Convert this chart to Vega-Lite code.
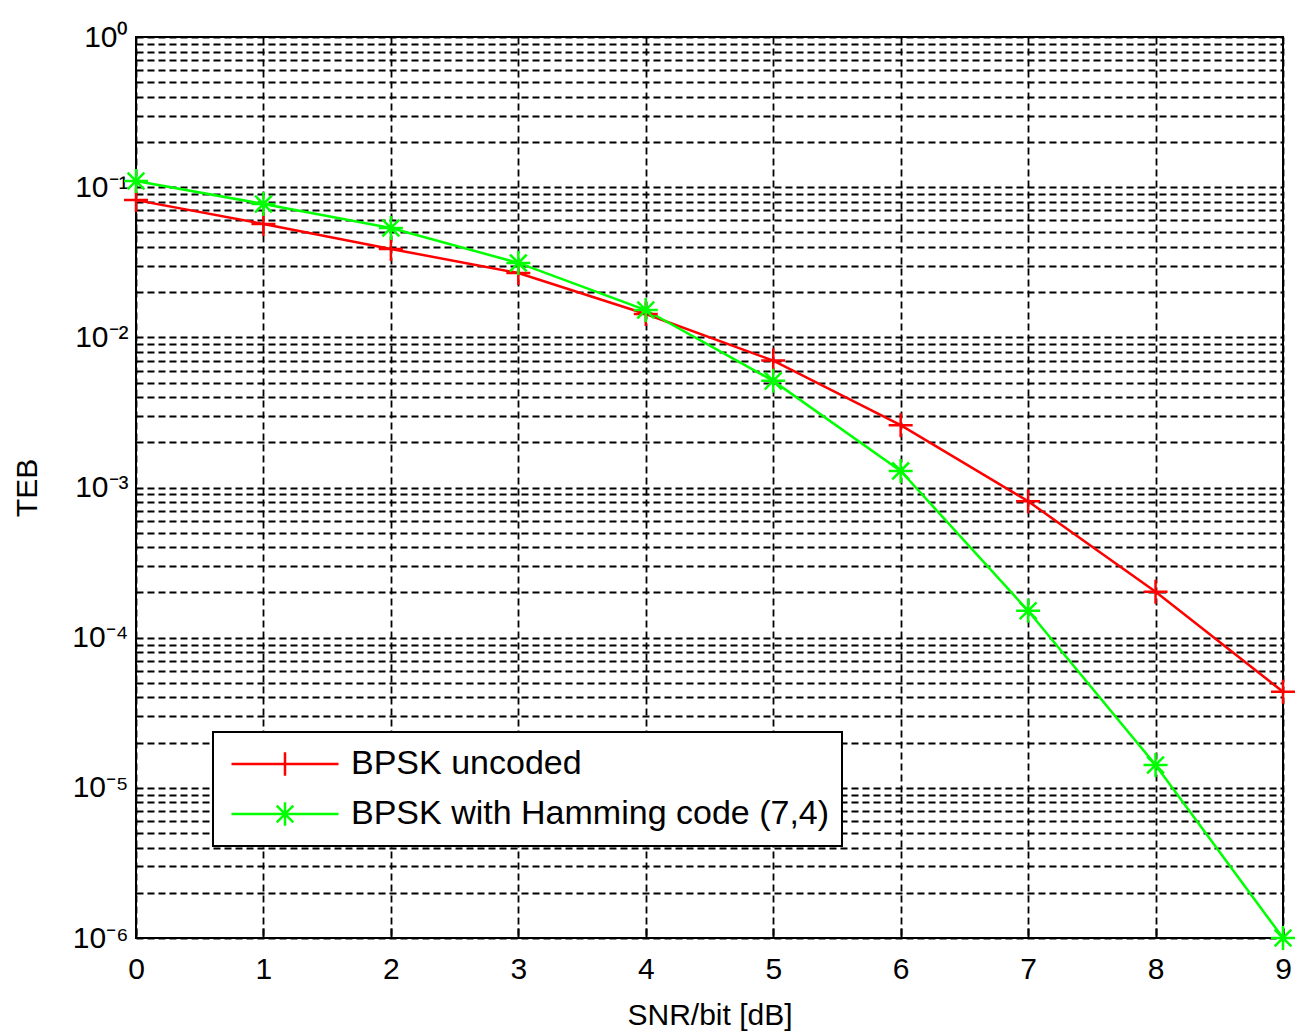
{
  "$schema": "https://vega.github.io/schema/vega-lite/v6.json",
  "width": 1147,
  "height": 901,
  "autosize": {"type": "none"},
  "padding": {"left": 136, "top": 37, "right": 12, "bottom": 96},
  "background": "white",
  "config": {
    "font": "Liberation Sans",
    "view": {"stroke": "black", "strokeWidth": 2},
    "axis": {"labelFont": "Liberation Sans", "titleFont": "Liberation Sans", "labelColor": "black", "titleColor": "black", "titleFontWeight": "normal"}
  },
  "data": {
    "values": [
      {"snr": 0, "teb": 0.082, "series": "BPSK uncoded"},
      {"snr": 1, "teb": 0.0569, "series": "BPSK uncoded"},
      {"snr": 2, "teb": 0.0388, "series": "BPSK uncoded"},
      {"snr": 3, "teb": 0.0268, "series": "BPSK uncoded"},
      {"snr": 4, "teb": 0.0143, "series": "BPSK uncoded"},
      {"snr": 5, "teb": 0.0070, "series": "BPSK uncoded"},
      {"snr": 6, "teb": 0.0026, "series": "BPSK uncoded"},
      {"snr": 7, "teb": 0.00081, "series": "BPSK uncoded"},
      {"snr": 8, "teb": 0.000202, "series": "BPSK uncoded"},
      {"snr": 9, "teb": 0.0000436, "series": "BPSK uncoded"},
      {"snr": 0, "teb": 0.110, "series": "BPSK with Hamming code (7,4)"},
      {"snr": 1, "teb": 0.0773, "series": "BPSK with Hamming code (7,4)"},
      {"snr": 2, "teb": 0.0535, "series": "BPSK with Hamming code (7,4)"},
      {"snr": 3, "teb": 0.0313, "series": "BPSK with Hamming code (7,4)"},
      {"snr": 4, "teb": 0.0152, "series": "BPSK with Hamming code (7,4)"},
      {"snr": 5, "teb": 0.00513, "series": "BPSK with Hamming code (7,4)"},
      {"snr": 6, "teb": 0.00129, "series": "BPSK with Hamming code (7,4)"},
      {"snr": 7, "teb": 0.000151, "series": "BPSK with Hamming code (7,4)"},
      {"snr": 8, "teb": 0.0000142, "series": "BPSK with Hamming code (7,4)"},
      {"snr": 9, "teb": 0.000001, "series": "BPSK with Hamming code (7,4)"}
    ]
  },
  "encoding": {
    "x": {
      "field": "snr", "type": "quantitative",
      "scale": {"domain": [0, 9], "nice": false, "zero": false},
      "axis": {
        "title": "SNR/bit [dB]", "titleFontSize": 30, "titlePadding": 16,
        "values": [0, 1, 2, 3, 4, 5, 6, 7, 8, 9],
        "labelFontSize": 30, "labelPadding": 26, "labelFlush": false,
        "ticks": true, "tickSize": -10, "tickColor": "black", "tickWidth": 2, "domain": false,
        "grid": true, "gridColor": "black", "gridOpacity": 1, "gridWidth": 1.8, "gridDash": [7, 4]
      }
    },
    "y": {
      "field": "teb", "type": "quantitative",
      "scale": {"type": "log", "domain": [0.000001, 1], "nice": false},
      "axis": {
        "title": "TEB", "titleFontSize": 30, "titlePadding": 29,
        "values": [0.000001, 0.000002, 0.000003, 0.000004, 0.000005, 0.000006, 0.000007, 0.000008, 0.000009,
                   0.00001, 0.00002, 0.00003, 0.00004, 0.00005, 0.00006, 0.00007, 0.00008, 0.00009,
                   0.0001, 0.0002, 0.0003, 0.0004, 0.0005, 0.0006, 0.0007, 0.0008, 0.0009,
                   0.001, 0.002, 0.003, 0.004, 0.005, 0.006, 0.007, 0.008, 0.009,
                   0.01, 0.02, 0.03, 0.04, 0.05, 0.06, 0.07, 0.08, 0.09,
                   0.1, 0.2, 0.3, 0.4, 0.5, 0.6, 0.7, 0.8, 0.9, 1],
        "labelExpr": "datum.value == 1 ? '10⁰' : datum.value == 0.1 ? '10⁻¹' : datum.value == 0.01 ? '10⁻²' : datum.value == 0.001 ? '10⁻³' : datum.value == 0.0001 ? '10⁻⁴' : datum.value == 0.00001 ? '10⁻⁵' : datum.value == 0.000001 ? '10⁻⁶' : ''",
        "labelFontSize": 30, "labelPadding": 8, "ticks": false, "domain": false, "labelOverlap": false, "labelFlush": false,
        "grid": true, "gridColor": "black", "gridOpacity": 1, "gridWidth": 1.8, "gridDash": [7, 4]
      }
    },
    "color": {
      "field": "series", "type": "nominal",
      "scale": {"domain": ["BPSK uncoded", "BPSK with Hamming code (7,4)"], "range": ["#ff0000", "#00ff00"]},
      "legend": {
        "title": null,
        "orient": "none", "legendX": 77, "legendY": 695,
        "labelFontSize": 34, "labelFont": "Liberation Sans", "labelColor": "black", "labelLimit": 1000,
        "symbolSize": 11449, "symbolStrokeWidth": 2.5, "symbolType": "stroke", "symbolOffset": 5,
        "labelOffset": 11, "padding": 12, "rowPadding": 10, "clipHeight": 40,
        "fillColor": "white", "strokeColor": "black", "cornerRadius": 0,
        "encode": {
          "legend": {"update": {"strokeWidth": {"value": 2}}},
          "symbols": {
            "update": {
              "shape": {"signal": "datum.value === 'BPSK uncoded' ? 'M-1,0H1M0,-0.22V0.22' : 'M-1,0H1M0,-0.22V0.22M-0.155,-0.155L0.155,0.155M-0.155,0.155L0.155,-0.155'"},
              "fill": {"value": "transparent"}
            }
          }
        }
      }
    }
  },
  "layer": [
    {"mark": {"type": "line", "strokeWidth": 2.5, "clip": false}},
    {
      "transform": [{"filter": "datum.series === 'BPSK uncoded'"}],
      "mark": {"type": "point", "filled": false, "strokeWidth": 2.5, "size": 576, "opacity": 1, "clip": false, "shape": "M-1,0H1M0,-1V1"}
    },
    {
      "transform": [{"filter": "datum.series !== 'BPSK uncoded'"}],
      "mark": {"type": "point", "filled": false, "strokeWidth": 2.5, "size": 576, "opacity": 1, "clip": false, "shape": "M-1,0H1M0,-1V1M-0.7,-0.7L0.7,0.7M-0.7,0.7L0.7,-0.7"}
    }
  ]
}
